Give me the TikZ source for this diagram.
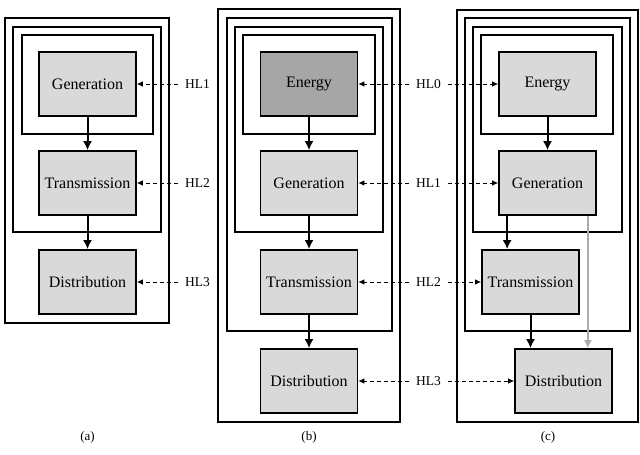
\documentclass[tikz,border=0pt]{standalone}
\usepackage{fontspec}
\setmainfont{Liberation Serif}
\usetikzlibrary{arrows.meta,calc}
\definecolor{boxfill}{HTML}{D9D9D9}
\definecolor{darkfill}{HTML}{A6A6A6}
\definecolor{grayarrow}{HTML}{ABABAB}
\tikzset{
  blk/.style={draw=black,line width=1.7pt,fill=boxfill,minimum width=97pt,minimum height=64pt,inner sep=0pt,font=\fontsize{16}{18}\selectfont},
  darkblk/.style={blk,fill=darkfill},
  frame/.style={draw=black,line width=1.5pt},
  flow/.style={line width=2pt,-{Latex[length=9pt,width=9pt]}},
  grayflow/.style={draw=grayarrow,line width=1.5pt,-{Latex[length=8pt,width=8pt]}},
  hl/.style={font=\fontsize{13.5}{15}\selectfont,inner sep=0pt,outer sep=7pt},
  hlarrow/.style={line width=0.8pt,dash pattern=on 4pt off 3pt,-{Latex[length=6pt,width=5.5pt]}},
  captext/.style={font=\fontsize{13}{15}\selectfont}
}
\begin{document}
\begin{tikzpicture}[x=1pt,y=-1pt]
\useasboundingbox (0,0) rectangle (640,455);
% ---------------- panel (a)
\draw[frame] (5,18) rectangle (169,323);
\draw[frame] (13,27) rectangle (161,232);
\draw[frame] (22,35) rectangle (153,134);
\node[blk] (a1) at (87.5,84) {Generation};
\node[blk] (a2) at (87.5,183) {Transmission};
\node[blk] (a3) at (87.5,282) {Distribution};
\draw[flow] (a1.south) -- (a2.north);
\draw[flow] (a2.south) -- (a3.north);
\node[hl] (ha1) at (197.5,84) {HL1};
\node[hl] (ha2) at (197.5,183) {HL2};
\node[hl] (ha3) at (197.5,282) {HL3};
\draw[hlarrow] (ha1.west) -- (a1.east);
\draw[hlarrow] (ha2.west) -- (a2.east);
\draw[hlarrow] (ha3.west) -- (a3.east);
\node[captext] (capa) at (87.5,437) {(a)};
% ---------------- panel (b)
\draw[frame] (218,9) rectangle (400,422);
\draw[frame] (227,18) rectangle (392,331);
\draw[frame] (235,27) rectangle (383,232);
\draw[frame] (243,35) rectangle (375,134);
\node[darkblk] (b0) at (309,84) {Energy};
\node[blk] (b1) at (309,183) {Generation};
\node[blk] (b2) at (309,282) {Transmission};
\node[blk] (b3) at (309,381) {Distribution};
\draw[flow] (b0.south) -- (b1.north);
\draw[flow] (b1.south) -- (b2.north);
\draw[flow] (b2.south) -- (b3.north);
\node[captext] (capb) at (309,437) {(b)};
% ---------------- panel (c)
\draw[frame] (457,10) rectangle (638,422);
\draw[frame] (465,18) rectangle (630,331);
\draw[frame] (473,27) rectangle (622,232);
\draw[frame] (481,35) rectangle (613,134);
\node[blk] (c0) at (547.5,84) {Energy};
\node[blk] (c1) at (547.5,183) {Generation};
\node[blk] (c2) at (530.5,282) {Transmission};
\node[blk] (c3) at (563.5,381) {Distribution};
\coordinate (gl) at ($(c1.south west)+(9,0)$);
\coordinate (gr) at ($(c1.south east)+(-9,0)$);
\draw[flow] (c0.south) -- (c1.north);
\draw[flow] (gl) -- (gl |- c2.north);
\draw[flow] (c2.south) -- (c2.south |- c3.north);
\draw[grayflow] (gr) -- (gr |- c3.north);
\node[captext] (capc) at (548,437) {(c)};
% ---------------- shared labels (b)/(c)
\node[hl] (h0) at (428.5,84) {HL0};
\node[hl] (h1) at (428.5,183) {HL1};
\node[hl] (h2) at (428.5,282) {HL2};
\node[hl] (h3) at (428.5,381) {HL3};
\draw[hlarrow] (h0.west) -- (b0.east);
\draw[hlarrow] (h0.east) -- (c0.west);
\draw[hlarrow] (h1.west) -- (b1.east);
\draw[hlarrow] (h1.east) -- (c1.west);
\draw[hlarrow] (h2.west) -- (b2.east);
\draw[hlarrow] (h2.east) -- (c2.west);
\draw[hlarrow] (h3.west) -- (b3.east);
\draw[hlarrow] (h3.east) -- (c3.west);
\end{tikzpicture}
\end{document}
